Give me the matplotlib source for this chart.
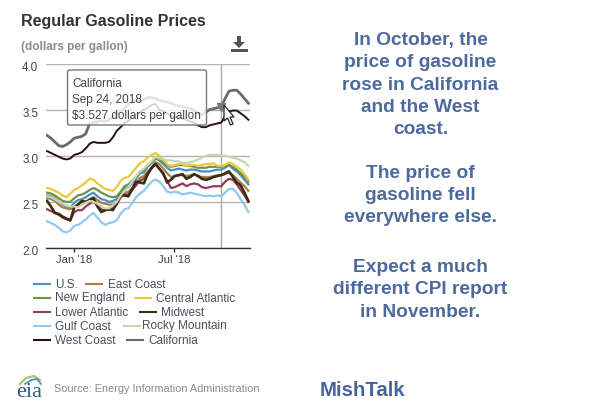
import matplotlib
matplotlib.use("Agg")
import matplotlib.pyplot as plt
import pandas as pd
from matplotlib.lines import Line2D
from matplotlib.patches import Polygon, FancyBboxPatch, Rectangle
from matplotlib.transforms import ScaledTranslation

plt.rcParams['font.family'] = ['Liberation Sans', 'DejaVu Sans']

W, H = 609, 405
dates = pd.date_range("2017-11-13", periods=53, freq="7D")

us = [2.57,2.56,2.54,2.50,2.47,2.45,2.44,2.49,2.52,2.53,2.55,2.58,2.60,2.56,2.53,2.52,2.50,2.51,2.53,2.60,2.65,2.66,2.70,2.75,2.81,2.82,2.88,2.92,2.97,2.95,2.91,2.87,2.84,2.85,2.86,2.85,2.84,2.85,2.85,2.84,2.83,2.83,2.83,2.84,2.85,2.85,2.87,2.90,2.86,2.83,2.79,2.74,2.69]
east = [2.54,2.53,2.51,2.47,2.44,2.43,2.42,2.45,2.47,2.49,2.50,2.53,2.55,2.52,2.49,2.48,2.47,2.47,2.49,2.55,2.60,2.61,2.65,2.70,2.76,2.78,2.83,2.87,2.93,2.91,2.86,2.81,2.77,2.78,2.79,2.79,2.78,2.79,2.80,2.78,2.77,2.77,2.77,2.78,2.79,2.79,2.80,2.82,2.79,2.75,2.71,2.67,2.62]
new_england = [2.60,2.59,2.57,2.54,2.51,2.50,2.50,2.54,2.57,2.58,2.60,2.63,2.65,2.63,2.60,2.58,2.56,2.55,2.56,2.61,2.67,2.69,2.73,2.77,2.83,2.84,2.90,2.93,2.97,2.96,2.93,2.90,2.88,2.89,2.90,2.90,2.89,2.89,2.88,2.87,2.87,2.87,2.88,2.88,2.88,2.88,2.89,2.90,2.88,2.85,2.81,2.77,2.72]
central = [2.65,2.64,2.62,2.60,2.57,2.55,2.59,2.63,2.65,2.68,2.71,2.75,2.74,2.70,2.67,2.64,2.63,2.62,2.66,2.73,2.76,2.77,2.82,2.87,2.92,2.94,2.98,3.01,3.03,3.00,2.96,2.91,2.89,2.90,2.91,2.91,2.89,2.90,2.90,2.89,2.90,2.91,2.91,2.92,2.89,2.89,2.90,2.93,2.91,2.88,2.85,2.80,2.74]
lower = [2.42,2.40,2.38,2.36,2.33,2.31,2.30,2.39,2.41,2.41,2.45,2.48,2.50,2.46,2.42,2.41,2.42,2.43,2.47,2.55,2.58,2.58,2.63,2.68,2.73,2.75,2.81,2.86,2.91,2.86,2.80,2.73,2.65,2.66,2.68,2.70,2.67,2.69,2.70,2.69,2.66,2.65,2.66,2.67,2.67,2.67,2.72,2.75,2.74,2.69,2.63,2.57,2.50]
midwest = [2.51,2.45,2.38,2.37,2.34,2.32,2.30,2.44,2.47,2.51,2.50,2.52,2.54,2.45,2.39,2.41,2.42,2.41,2.49,2.58,2.57,2.56,2.64,2.72,2.71,2.70,2.80,2.87,2.91,2.86,2.81,2.71,2.74,2.78,2.79,2.80,2.75,2.77,2.80,2.78,2.75,2.74,2.75,2.77,2.78,2.79,2.81,2.83,2.77,2.71,2.68,2.60,2.51]
gulf = [2.29,2.27,2.25,2.22,2.18,2.17,2.19,2.24,2.25,2.28,2.31,2.35,2.38,2.33,2.28,2.25,2.27,2.28,2.30,2.37,2.42,2.43,2.49,2.55,2.59,2.62,2.67,2.72,2.74,2.72,2.67,2.61,2.60,2.61,2.60,2.58,2.59,2.60,2.59,2.58,2.57,2.56,2.57,2.56,2.57,2.56,2.60,2.64,2.64,2.60,2.53,2.47,2.39]
rocky = [2.56,2.55,2.53,2.50,2.48,2.46,2.45,2.45,2.44,2.47,2.49,2.51,2.50,2.48,2.45,2.43,2.43,2.46,2.50,2.57,2.62,2.66,2.72,2.78,2.83,2.86,2.90,2.94,2.99,2.97,2.96,2.95,2.95,2.94,2.94,2.92,2.92,2.93,2.94,2.96,2.98,3.00,3.01,3.01,3.01,3.00,3.00,2.99,2.98,2.97,2.95,2.93,2.89]
west = [3.05,3.03,3.01,2.99,2.97,2.96,2.97,3.01,3.02,3.04,3.08,3.13,3.15,3.14,3.14,3.14,3.15,3.20,3.27,3.31,3.35,3.38,3.41,3.44,3.47,3.50,3.52,3.55,3.56,3.50,3.48,3.46,3.43,3.42,3.42,3.40,3.39,3.37,3.36,3.33,3.31,3.31,3.33,3.34,3.35,3.36,3.43,3.48,3.49,3.49,3.46,3.43,3.39]
california = [3.22,3.19,3.15,3.11,3.10,3.12,3.15,3.19,3.20,3.21,3.24,3.35,3.36,3.37,3.38,3.37,3.39,3.42,3.45,3.48,3.51,3.56,3.58,3.60,3.59,3.61,3.63,3.63,3.62,3.60,3.59,3.58,3.57,3.55,3.54,3.53,3.52,3.51,3.49,3.46,3.45,3.47,3.50,3.51,3.52,3.527,3.62,3.70,3.71,3.71,3.67,3.62,3.57]

names = ["U.S.", "East Coast", "New England", "Central Atlantic", "Lower Atlantic",
         "Midwest", "Gulf Coast", "Rocky Mountain", "West Coast", "California"]
series = [us, east, new_england, central, lower, midwest, gulf, rocky, west, california]
colors = ["#4a90c4", "#a87f45", "#6f9445", "#eec83c", "#8e3f55",
          "#3b2c15", "#90c9ee", "#c6d6ae", "#2a1014", "#6a6a6a"]
widths = [1.6, 1.6, 1.6, 1.6, 1.6, 1.9, 1.6, 1.6, 1.4, 2.0]
legend_layout = [(34, 284, 55), (86, 284, 108), (34, 298, 55), (135, 298, 156), (34, 312, 55),
                 (140, 312, 161), (34, 326, 55), (124, 326, 142), (34, 340, 55), (127, 340, 148)]
right_lines = [("In October, the", 45), ("price of gasoline", 67), ("rose in California", 90),
               ("and the West", 112), ("coast.", 134), ("The price of", 178), ("gasoline fell", 200),
               ("everywhere else.", 222), ("Expect a much", 272), ("different CPI report", 294),
               ("in November.", 317)]

def fx(x): return x / W
def fy(y): return 1 - y / H

fig = plt.figure(figsize=(W / 100, H / 100), dpi=100, facecolor="white")
ax = fig.add_axes([fx(46), fy(248), (250 - 46) / W, (248 - 63.5) / H])
for y, c, n, w in zip(series, colors, names, widths):
    ax.plot(dates, y, color=c, lw=w, label=n, solid_joinstyle="round", zorder=3)
ax.set_ylim(2, 4)
ax.set_xlim(pd.Timestamp("2017-11-11"), pd.Timestamp("2018-11-15"))
ax.set_yticks([2, 2.5, 3, 3.5, 4])
ax.set_yticklabels(["2.0", "2.5", "3.0", "3.5", "4.0"], fontsize=8.4, color="#444444")
ax.set_xticks([pd.Timestamp("2018-01-01"), pd.Timestamp("2018-07-01")])
ax.set_xticklabels(["Jan '18", "Jul '18"], fontsize=8.2, color="#444444")
ax.grid(axis="y", color="#b5b3ad", lw=1, zorder=1)
for s in ["left", "right", "top"]:
    ax.spines[s].set_visible(False)
ax.spines["bottom"].set_color("#333333")
ax.spines["bottom"].set_linewidth(1)
ax.tick_params(axis="y", length=0, pad=5.5)
ax.tick_params(axis="x", length=3, color="#333333", width=1, pad=1.8)
shift = ScaledTranslation(0, -2 / 72, fig.dpi_scale_trans)
for lab in ax.get_yticklabels():
    lab.set_transform(lab.get_transform() + shift)

hover = pd.Timestamp("2018-09-24")
ax.axvline(hover, color="#a9a9a5", lw=1, zorder=2)
ax.plot([hover], [3.527], marker="v", ms=6, color="#777777", zorder=6, clip_on=False)

# Tooltip
fig.add_artist(FancyBboxPatch((fx(67.5), fy(125)), 139 / W, 55 / H,
                              boxstyle="round,pad=0,rounding_size=0.004",
                              fc=(1, 1, 1, 0.82), ec="#777777", lw=1.0,
                              transform=fig.transFigure, zorder=7))
for txt, y in [("California", 87), ("Sep 24, 2018", 103), ("$3.527 dollars per gallon", 119)]:
    fig.text(fx(72), fy(y), txt, fontsize=8.5, color="#444444", va="baseline", zorder=8)

# Cursor
cursor = [(224, 105), (224, 121), (227.5, 118), (230.5, 125), (233, 124), (230, 117), (234, 117)]
fig.add_artist(Polygon([(fx(a), fy(b)) for a, b in cursor], closed=True, fc="white", ec="#222222",
                       lw=0.9, transform=fig.transFigure, zorder=9))

# Titles
fig.text(fx(21), fy(21.5), "Regular Gasoline Prices", fontsize=11.5, fontweight="bold",
         color="#333333", va="center")
fig.text(fx(21), fy(47), "(dollars per gallon)", fontsize=8.5, fontweight="bold",
         color="#8c8c8c", va="center")

# Download icon
arrow = [(237, 36), (241, 36), (241, 42), (245, 42), (239, 48), (233, 42), (237, 42)]
fig.add_artist(Polygon([(fx(a), fy(b)) for a, b in arrow], closed=True, fc="#555555", ec="none",
                       transform=fig.transFigure))
fig.add_artist(Rectangle((fx(231), fy(52)), 17 / W, 3 / H, fc="#555555", ec="none",
                         transform=fig.transFigure))

# Legend
for (hx, ly, tx), c, n in zip(legend_layout, colors, names):
    fig.add_artist(Line2D([fx(hx), fx(hx + 16)], [fy(ly), fy(ly)], color=c, lw=1.5,
                          transform=fig.transFigure))
    fig.text(fx(tx), fy(ly + 3.5), n, fontsize=8.5, color="#4a4f5c", va="baseline")

# Source and logo
fig.text(fx(54), fy(389), "Source: Energy Information Administration", fontsize=7.85,
         color="#8a8a8a", va="center")
fig.text(fx(16), fy(397), "eia", fontsize=16, family="Liberation Serif", color="#2c5c7c", va="baseline")
fig.add_artist(Line2D([fx(20), fx(26), fx(34), fx(40)], [fy(384), fy(378), fy(376), fy(380)],
                      color="#a9c46c", lw=1.6, transform=fig.transFigure))
fig.add_artist(Line2D([fx(25), fx(31), fx(37), fx(41)], [fy(384), fy(380), fy(379), fy(384)],
                      color="#3f8fc4", lw=1.2, transform=fig.transFigure))

# Right side commentary
for txt, y in right_lines:
    fig.text(fx(420.5), fy(y), txt, fontsize=13.8, fontweight="bold", color="#4c6a9c",
             ha="center", va="baseline")
fig.text(fx(320), fy(391), "MishTalk", fontsize=14.7, fontweight="bold", color="#46639a", va="center")

fig.savefig("out.png", dpi=100, facecolor="white")
